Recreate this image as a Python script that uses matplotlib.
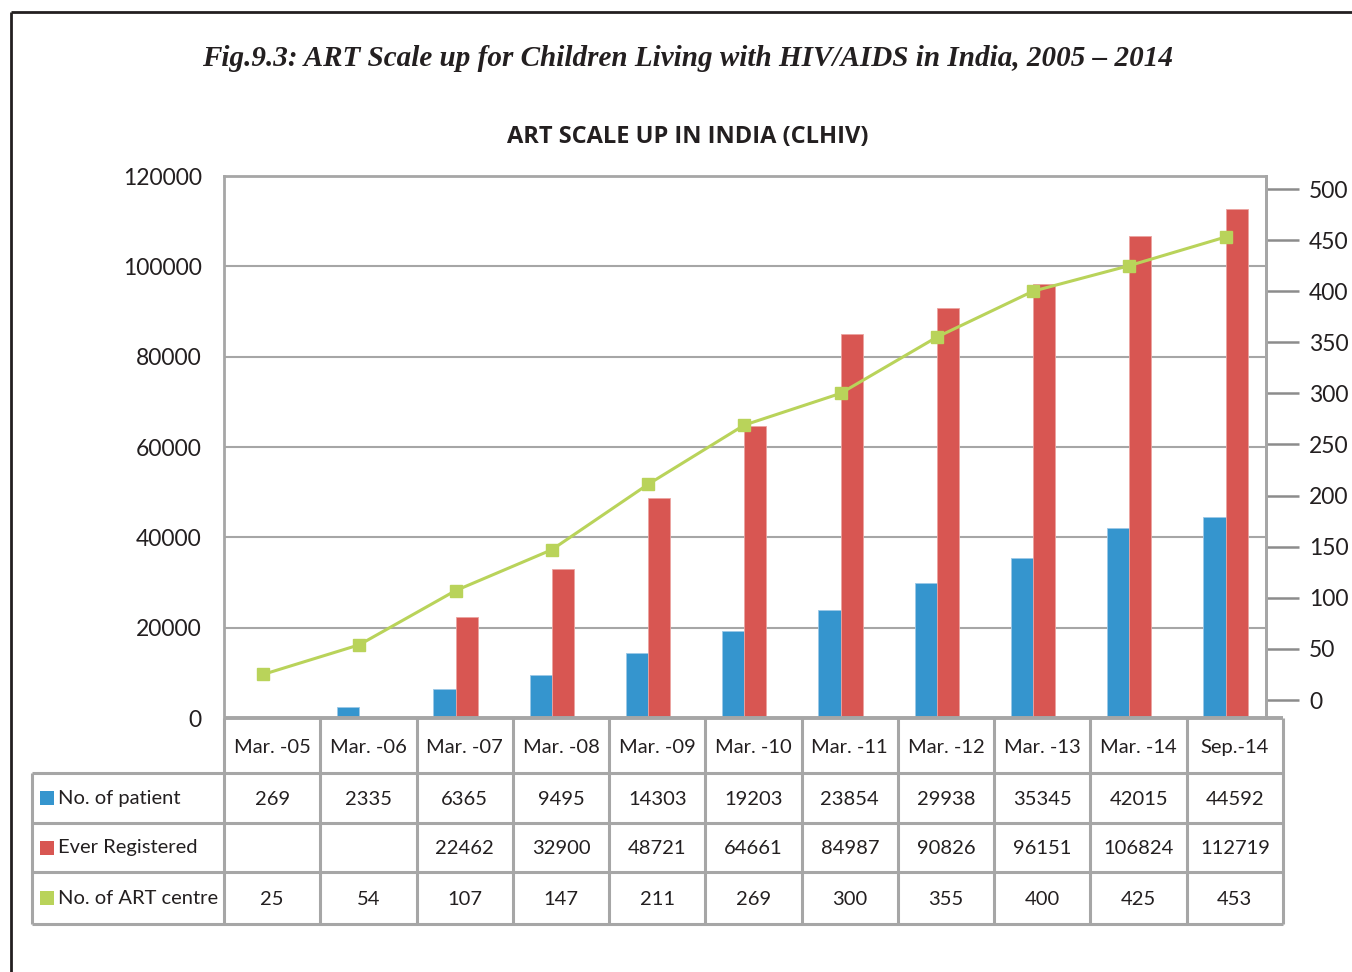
import matplotlib
matplotlib.use("Agg")
import matplotlib.pyplot as plt
import numpy as np

categories = ["Mar. -05", "Mar. -06", "Mar. -07", "Mar. -08", "Mar. -09", "Mar. -10",
              "Mar. -11", "Mar. -12", "Mar. -13", "Mar. -14", "Sep.-14"]
patients = [269, 2335, 6365, 9495, 14303, 19203, 23854, 29938, 35345, 42015, 44592]
ever_registered = [None, None, 22462, 32900, 48721, 64661, 84987, 90826, 96151, 106824, 112719]
art_centres = [25, 54, 107, 147, 211, 269, 300, 355, 400, 425, 453]
series_names = ["No. of patient", "Ever Registered", "No. of ART centre"]
left_ticks = [0, 20000, 40000, 60000, 80000, 100000, 120000]
right_ticks = [0, 50, 100, 150, 200, 250, 300, 350, 400, 450, 500]

title = "Fig.9.3: ART Scale up for Children Living with HIV/AIDS in India, 2005 \u2013 2014"
chart_title = "ART SCALE UP IN INDIA (CLHIV)"

BLUE = "#3595CE"
RED = "#D85652"
GREEN = "#B9D35A"
GRID = "#A6A6A6"
SANS = ["Lato", "DejaVu Sans"]
SANS_BOLD = ["Open Sans", "DejaVu Sans"]
SERIF = ["Liberation Serif", "DejaVu Serif"]
TXT = "#231F20"

W, H = 1352, 972
fig = plt.figure(figsize=(W / 100, H / 100), dpi=100)
fig.patch.set_facecolor("white")

# plot area in pixels
L, R, T, B = 224, 1266, 176, 718
ax = fig.add_axes([L / W, 1 - B / H, (R - L) / W, (B - T) / H])
n = len(categories)
x = np.arange(n)
step = 96.25
xmin = -(263 - L) / step
xmax = xmin + (R - L) / step
ax.set_xlim(xmin, xmax)
ax.set_ylim(0, 120000)

bw = 0.23
pat = np.array(patients, dtype=float)
reg = np.array([np.nan if v is None else v for v in ever_registered], dtype=float)
ax.bar(x - bw / 2, pat, width=bw, color=BLUE, edgecolor="#9CC8E6", linewidth=0.6, zorder=2)
ax.bar(x + bw / 2, reg, width=bw, color=RED, edgecolor="#EBA3A0", linewidth=0.6, zorder=2)

ax.set_yticks(left_ticks)
ax.set_yticklabels([str(v) for v in left_ticks], fontfamily=SANS, fontsize=16.5, color=TXT)
ax.tick_params(axis="y", length=0, pad=16)
ax.set_xticks([])
ax.grid(axis="y", color=GRID, linewidth=1.5)
ax.set_axisbelow(True)
for s in ["left", "top", "right"]:
    ax.spines[s].set_color(GRID)
    ax.spines[s].set_linewidth(2.0)
ax.spines["bottom"].set_visible(False)

ax2 = ax.twinx()
ppu = (700 - 189) / 500.0
ax2.set_ylim(-(B - 700) / ppu, 500 + (189 - T) / ppu)
ax2.plot(x, art_centres, color=GREEN, linewidth=2.2, marker="s", markersize=8,
         markerfacecolor=GREEN, markeredgecolor=GREEN, zorder=3)
ax2.set_yticks(right_ticks)
ax2.set_yticklabels([str(v) for v in right_ticks], fontfamily=SANS, fontsize=16.5, color=TXT)
ax2.tick_params(axis="y", length=24, width=1.8, color="#8C8C8C", pad=7)
ax2.spines["right"].set_color(GRID)
ax2.spines["right"].set_linewidth(2.0)
for s in ["left", "top", "bottom"]:
    ax2.spines[s].set_visible(False)

# overlay in pixel coords for frame, titles and data table
ov = fig.add_axes([0, 0, 1, 1], zorder=5)
ov.set_xlim(0, W)
ov.set_ylim(H, 0)
ov.axis("off")
ov.patch.set_alpha(0)

# page frame
ov.plot([11, W], [12, 12], color=TXT, linewidth=2.0, solid_capstyle="butt")
ov.plot([11, 11], [12, H], color=TXT, linewidth=2.0, solid_capstyle="butt")

ov.text(688, 58, title, ha="center", va="center", fontfamily=SERIF, fontsize=21,
        fontweight="bold", fontstyle="italic", color=TXT)
ov.text(688, 137, chart_title, ha="center", va="center", fontfamily=SANS_BOLD, fontsize=17,
        fontweight="bold", color=TXT)

# table
TL, TR = 32, 1283
rows_y = [718, 773, 823, 872, 924]
col_w = (TR - L) / n
cols_x = [L + k * col_w for k in range(n + 1)]
lw = 2.2
ov.plot([L, TR], [rows_y[0], rows_y[0]], color=GRID, linewidth=lw + 0.6, solid_capstyle="butt")
for yy in rows_y[1:]:
    ov.plot([TL, TR], [yy, yy], color=GRID, linewidth=lw, solid_capstyle="butt")
for xx in cols_x:
    ov.plot([xx, xx], [rows_y[0], rows_y[-1]], color=GRID, linewidth=lw, solid_capstyle="butt")
ov.plot([TL, TL], [rows_y[1], rows_y[-1]], color=GRID, linewidth=lw, solid_capstyle="butt")

tfs = 14.5
for k, c in enumerate(categories):
    ov.text((cols_x[k] + cols_x[k + 1]) / 2, (rows_y[0] + rows_y[1]) / 2 + 2, c,
            ha="center", va="center", fontfamily=SANS, fontsize=tfs, color=TXT)

series_vals = [patients, ever_registered, art_centres]
series_cols = [BLUE, RED, GREEN]
for r in range(3):
    yc = (rows_y[r + 1] + rows_y[r + 2]) / 2
    ov.add_patch(plt.Rectangle((40, yc - 7), 14, 14, color=series_cols[r], linewidth=0))
    ov.text(58, yc, series_names[r], ha="left", va="center", fontfamily=SANS,
            fontsize=tfs, color=TXT)
    for k, v in enumerate(series_vals[r]):
        if v is None:
            continue
        ov.text((cols_x[k] + cols_x[k + 1]) / 2, yc + 1, str(v), ha="center", va="center",
                fontfamily=SANS, fontsize=tfs, color=TXT)

fig.savefig("out.png", dpi=100, facecolor="white")
